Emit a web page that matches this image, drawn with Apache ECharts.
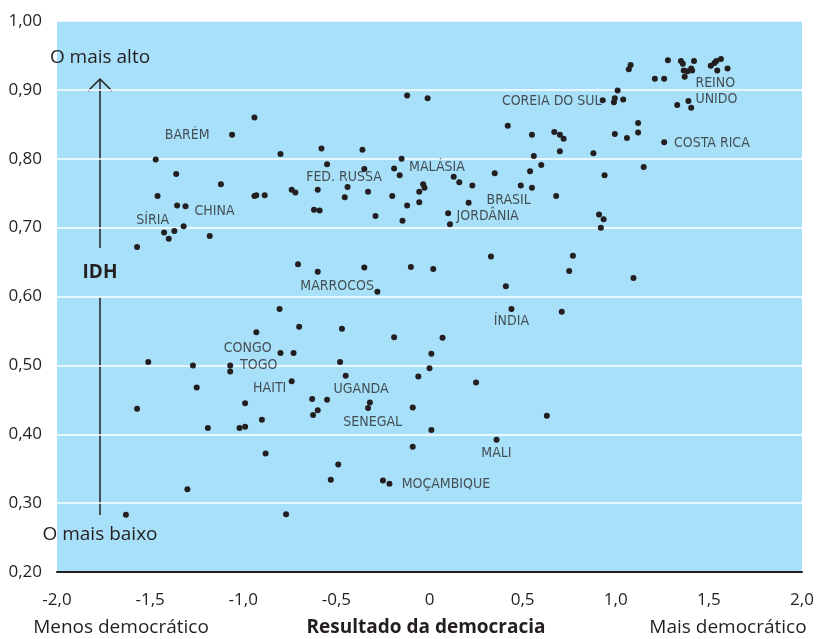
<!DOCTYPE html>
<html>
<head>
<meta charset="utf-8">
<script src="https://cdn.jsdelivr.net/npm/echarts@6/dist/echarts.min.js"></script>
<style>
  html, body { margin: 0; padding: 0; background: #fff; }
  #chart { width: 821px; height: 639px; }
</style>
</head>
<body>
<div id="chart"></div>
<script>
// resultado da democracia (x) e IDH (y) de cada país
const democracia = [
  -0.94, -1.06, -0.80, -1.47, -1.36, -1.12, -1.46, -0.94, -0.93, -0.885,
  -0.74, -0.72, -1.355, -1.31, -1.32, -1.37, -1.425, -1.40, -1.18, -1.57,
  -0.706, -0.805, -0.70, -0.93, -0.80, -0.73, -1.51, -1.27, -1.07, -1.07,
  -1.25, -0.74, -1.57, -0.99, -1.19, -1.02, -0.99, -0.90, -0.88, -1.30,
  -1.63, -0.77, -0.12, -0.01, 0.42, 0.55, 0.56, 0.60, 0.54, 0.49,
  0.55, 0.35, -0.58, -0.36, -0.15, -0.55, -0.35, -0.19, -0.16, 0.13,
  0.16, 0.23, -0.034, -0.027, -0.055, -0.055, -0.12, 0.21, -0.60, -0.44,
  -0.33, -0.455, -0.20, -0.62, -0.59, -0.29, -0.145, 0.10, 0.11, 0.33,
  -0.60, -0.35, -0.10, 0.02, 0.41, -0.28, 0.44, -0.47, -0.19, 0.07,
  0.01, -0.48, 0.00, -0.45, -0.06, 0.25, -0.63, -0.55, -0.625, -0.60,
  -0.32, -0.33, -0.09, 0.63, 0.01, -0.09, 0.36, -0.49, -0.53, -0.25,
  -0.215, 0.93, 1.01, 0.995, 0.99, 1.04, 1.07, 1.08, 1.21, 1.26,
  1.28, 1.35, 1.36, 1.42, 1.365, 1.385, 1.41, 1.405, 1.37, 1.51,
  1.53, 1.54, 1.565, 1.545, 1.60, 1.33, 1.39, 1.405, 0.67, 0.70,
  0.72, 0.70, 0.88, 0.995, 1.06, 1.12, 1.12, 1.26, 1.15, 0.94,
  0.68, 0.91, 0.935, 0.92, 0.77, 0.75, 1.095, 0.71
];
const idh = [
  0.860, 0.835, 0.807, 0.799, 0.778, 0.763, 0.746, 0.746, 0.747, 0.747,
  0.755, 0.751, 0.732, 0.731, 0.702, 0.695, 0.693, 0.684, 0.688, 0.672,
  0.647, 0.582, 0.556, 0.548, 0.518, 0.518, 0.505, 0.500, 0.500, 0.491,
  0.468, 0.477, 0.437, 0.445, 0.409, 0.409, 0.411, 0.421, 0.372, 0.320,
  0.283, 0.284, 0.892, 0.888, 0.848, 0.835, 0.804, 0.791, 0.782, 0.761,
  0.758, 0.779, 0.815, 0.813, 0.800, 0.792, 0.785, 0.786, 0.776, 0.774,
  0.766, 0.761, 0.763, 0.758, 0.752, 0.737, 0.732, 0.736, 0.755, 0.759,
  0.752, 0.744, 0.746, 0.726, 0.725, 0.717, 0.710, 0.721, 0.705, 0.658,
  0.636, 0.642, 0.643, 0.640, 0.615, 0.607, 0.582, 0.553, 0.541, 0.540,
  0.517, 0.505, 0.496, 0.485, 0.484, 0.475, 0.451, 0.450, 0.428, 0.435,
  0.446, 0.438, 0.439, 0.427, 0.406, 0.382, 0.392, 0.356, 0.334, 0.333,
  0.328, 0.885, 0.899, 0.888, 0.882, 0.886, 0.930, 0.936, 0.916, 0.916,
  0.943, 0.942, 0.938, 0.942, 0.928, 0.927, 0.928, 0.931, 0.919, 0.935,
  0.939, 0.942, 0.945, 0.928, 0.931, 0.878, 0.884, 0.874, 0.839, 0.835,
  0.829, 0.811, 0.808, 0.836, 0.830, 0.852, 0.838, 0.824, 0.788, 0.776,
  0.746, 0.719, 0.712, 0.700, 0.659, 0.637, 0.627, 0.578
];

// nomes de países destacados e onde ficam (em unidades dos eixos)
const paises = ['BARÉM', 'SÍRIA', 'CHINA', 'FED. RUSSA', 'MALÁSIA', 'BRASIL', 'JORDÂNIA',
  'COREIA DO SUL', 'COSTA RICA', 'MARROCOS', 'ÍNDIA', 'CONGO', 'TOGO', 'HAITI',
  'UGANDA', 'SENEGAL', 'MALI', 'MOÇAMBIQUE'];
const paisX = [-1.301, -1.486, -1.154, -0.459, 0.040, 0.425, 0.312,
  0.656, 1.516, -0.496, 0.440, -0.976, -0.917, -0.858,
  -0.367, -0.305, 0.359, 0.088];
const paisY = [0.8345, 0.711, 0.723, 0.773, 0.788, 0.739, 0.716,
  0.884, 0.8225, 0.6144, 0.5636, 0.525, 0.4997, 0.4669,
  0.4655, 0.417, 0.3726, 0.3276];
// Reino Unido fica em duas linhas, alinhado à esquerda
const reinoUnido = { nome: 'REINO\nUNIDO', x: 1.425, y: 0.898 };

const yTicks = ['0,20', '0,30', '0,40', '0,50', '0,60', '0,70', '0,80', '0,90', '1,00'];
const xTicks = ['-2,0', '-1,5', '-1,0', '-0,5', '0', '0,5', '1,0', '1,5', '2,0'];

const ink = '#231f20';
const narrow = '"Liberation Sans Narrow", "Arial Narrow", "DejaVu Sans Condensed", "Roboto Condensed", sans-serif';
const pontos = democracia.map((d, i) => [d, idh[i]]);
const rotulos = paises.map((n, i) => ({ name: n, value: [paisX[i], paisY[i]] }));

const myChart = echarts.init(document.getElementById('chart'));

const option = {
  animation: false,
  grid: {
    left: 57,
    right: 19,
    top: 21,
    bottom: 67,
    show: true,
    backgroundColor: '#a8dff9',
    borderWidth: 0
  },
  xAxis: {
    type: 'value',
    min: -2,
    max: 2,
    interval: 0.5,
    axisLine: { show: true, onZero: false, lineStyle: { color: ink, width: 2 } },
    axisTick: { show: false },
    splitLine: { show: false },
    axisLabel: {
      margin: 20,
      color: ink,
      fontFamily: 'Open Sans',
      fontSize: 17,
      formatter: v => xTicks[Math.round((v + 2) / 0.5)]
    }
  },
  yAxis: {
    type: 'value',
    min: 0.2,
    max: 1.0,
    interval: 0.1,
    axisLine: { show: false },
    axisTick: { show: false },
    splitLine: { show: true, lineStyle: { color: '#ffffff', width: 1.5 } },
    axisLabel: {
      margin: 15,
      color: ink,
      fontFamily: 'Open Sans',
      fontSize: 17,
      formatter: v => yTicks[Math.round((v - 0.2) / 0.1)]
    }
  },
  series: [
    {
      type: 'scatter',
      data: pontos,
      symbolSize: 6,
      itemStyle: { color: ink, opacity: 1 },
      z: 3
    },
    {
      type: 'scatter',
      data: rotulos,
      symbolSize: 1,
      itemStyle: { color: 'transparent' },
      label: {
        show: true,
        position: 'inside',
        formatter: p => p.name,
        color: '#2b2b2b',
        fontFamily: narrow,
        fontSize: 14
      },
      z: 4
    },
    {
      type: 'scatter',
      data: [{ name: reinoUnido.nome, value: [reinoUnido.x, reinoUnido.y] }],
      symbolSize: 1,
      itemStyle: { color: 'transparent' },
      label: {
        show: true,
        position: 'right',
        distance: 0,
        align: 'left',
        formatter: p => p.name,
        color: '#2b2b2b',
        fontFamily: narrow,
        fontSize: 14,
        lineHeight: 16
      },
      z: 4
    }
  ],
  graphic: [
    // seta vertical do IDH
    { type: 'line', shape: { x1: 100, y1: 80, x2: 100, y2: 248 }, style: { stroke: ink, lineWidth: 1.5 } },
    { type: 'line', shape: { x1: 100, y1: 297, x2: 100, y2: 515 }, style: { stroke: ink, lineWidth: 1.5 } },
    { type: 'polyline', shape: { points: [[88, 91], [100, 79], [112, 91]] }, style: { stroke: ink, lineWidth: 1.5, fill: null } },
    {
      type: 'text', x: 100, y: 58,
      style: { text: 'O mais alto', fill: ink, font: '19px "Open Sans"', align: 'center', verticalAlign: 'middle' }
    },
    {
      type: 'text', x: 100, y: 535,
      style: { text: 'O mais baixo', fill: ink, font: '19px "Open Sans"', align: 'center', verticalAlign: 'middle' }
    },
    {
      type: 'text', x: 100, y: 273,
      style: { text: 'IDH', fill: ink, font: 'bold 19px "Open Sans"', align: 'center', verticalAlign: 'middle' }
    },
    {
      type: 'text', x: 121, y: 628,
      style: { text: 'Menos democrático', fill: ink, font: '19px "Open Sans"', align: 'center', verticalAlign: 'middle' }
    },
    {
      type: 'text', x: 426, y: 628,
      style: { text: 'Resultado da democracia', fill: ink, font: 'bold 19px "Open Sans"', align: 'center', verticalAlign: 'middle' }
    },
    {
      type: 'text', x: 728, y: 628,
      style: { text: 'Mais democrático', fill: ink, font: '19px "Open Sans"', align: 'center', verticalAlign: 'middle' }
    }
  ]
};

myChart.setOption(option);
</script>
</body>
</html>
